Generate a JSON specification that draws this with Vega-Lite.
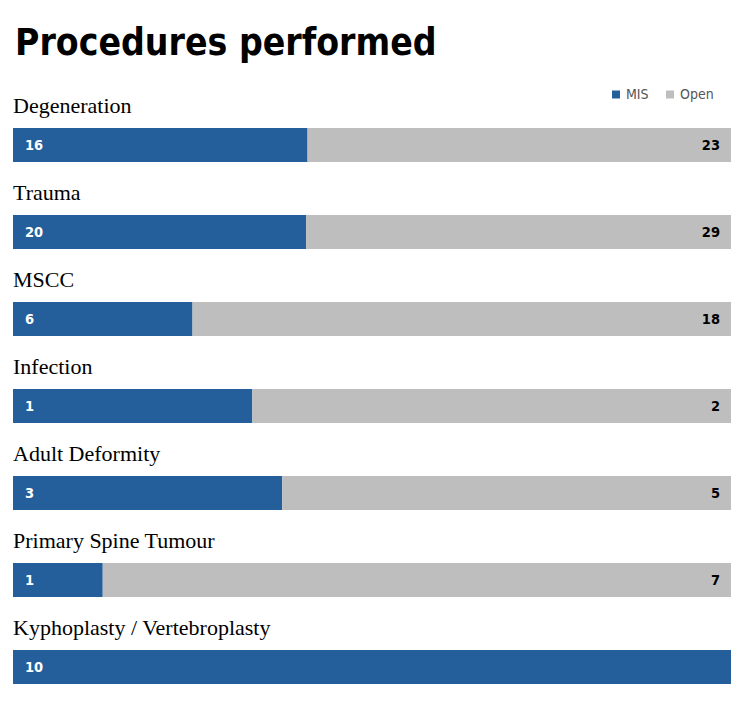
{
  "$schema": "https://vega.github.io/schema/vega-lite/v6.json",
  "width": 718,
  "height": 609,
  "autosize": "none",
  "padding": {"left": 13, "top": 101.5, "right": 19, "bottom": 4.5},
  "background": "white",
  "config": {"view": {"stroke": null}},
  "title": {
    "text": "Procedures performed",
    "anchor": "start",
    "font": "DejaVu Sans Condensed",
    "fontWeight": "bold",
    "fontSize": 37,
    "color": "#000000",
    "offset": 25,
    "dx": 2
  },
  "data": {
    "values": [
      {"category": "Degeneration", "type": "MIS", "count": 16},
      {"category": "Degeneration", "type": "Open", "count": 23},
      {"category": "Trauma", "type": "MIS", "count": 20},
      {"category": "Trauma", "type": "Open", "count": 29},
      {"category": "MSCC", "type": "MIS", "count": 6},
      {"category": "MSCC", "type": "Open", "count": 18},
      {"category": "Infection", "type": "MIS", "count": 1},
      {"category": "Infection", "type": "Open", "count": 2},
      {"category": "Adult Deformity", "type": "MIS", "count": 3},
      {"category": "Adult Deformity", "type": "Open", "count": 5},
      {"category": "Primary Spine Tumour", "type": "MIS", "count": 1},
      {"category": "Primary Spine Tumour", "type": "Open", "count": 7},
      {"category": "Kyphoplasty / Vertebroplasty", "type": "MIS", "count": 10},
      {"category": "Kyphoplasty / Vertebroplasty", "type": "Open", "count": 0}
    ]
  },
  "encoding": {
    "y": {
      "field": "category",
      "type": "nominal",
      "sort": null,
      "axis": null,
      "scale": {"paddingInner": 0, "paddingOuter": 0}
    }
  },
  "layer": [
    {
      "mark": {"type": "bar", "height": 34},
      "encoding": {
        "x": {"field": "count", "type": "quantitative", "stack": "normalize", "axis": null, "scale": {"domain": [0, 1], "nice": false}},
        "color": {
          "field": "type",
          "type": "nominal",
          "scale": {"domain": ["MIS", "Open"], "range": ["#245F9C", "#BEBEBE"]},
          "legend": {
            "title": null,
            "orient": "none",
            "legendX": 596,
            "legendY": -14,
            "direction": "horizontal",
            "symbolType": "square",
            "symbolSize": 64,
            "symbolStrokeWidth": 0,
            "labelFont": "DejaVu Sans Condensed",
            "labelFontSize": 14,
            "labelColor": "#555555",
            "columnPadding": 14,
            "labelOffset": 3
          }
        },
        "order": {"field": "type"}
      }
    },
    {
      "transform": [{"filter": "datum.type === 'MIS'"}],
      "mark": {"type": "text", "align": "left", "baseline": "middle", "dx": 12, "dy": 1, "font": "DejaVu Sans Condensed", "fontWeight": "bold", "fontSize": 14.5, "color": "white"},
      "encoding": {
        "x": {"datum": 0, "type": "quantitative"},
        "text": {"field": "count", "type": "quantitative"}
      }
    },
    {
      "transform": [{"filter": "datum.type === 'Open' && datum.count > 0"}],
      "mark": {"type": "text", "align": "right", "baseline": "middle", "dx": -11, "dy": 1, "font": "DejaVu Sans Condensed", "fontWeight": "bold", "fontSize": 14.5, "color": "black"},
      "encoding": {
        "x": {"datum": 1, "type": "quantitative"},
        "text": {"field": "count", "type": "quantitative"}
      }
    },
    {
      "transform": [{"filter": "datum.type === 'MIS'"}],
      "mark": {"type": "text", "align": "left", "baseline": "alphabetic", "dy": -32, "font": "Liberation Serif", "fontSize": 22, "color": "black"},
      "encoding": {
        "x": {"datum": 0, "type": "quantitative"},
        "text": {"field": "category", "type": "nominal"}
      }
    }
  ]
}
